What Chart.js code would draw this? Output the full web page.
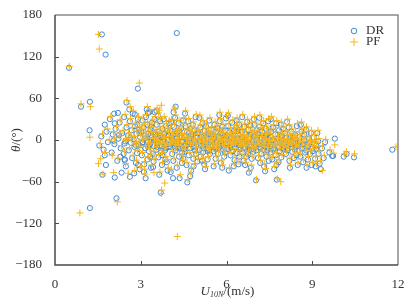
<!DOCTYPE html>
<html>
<head>
<meta charset="utf-8">
<script src="https://cdn.jsdelivr.net/npm/chart.js@4/dist/chart.umd.min.js"></script>
<style>
  body { margin: 0; background: #fff; }
  #wrap { width: 414px; height: 302px; }
</style>
</head>
<body>
<div id="wrap"><canvas id="scatter"></canvas></div>
<script>
// axis ticks
var xTicks = [0, 3, 6, 9, 12];
var yTicks = [-180, -120, -60, 0, 60, 120, 180];
var seriesNames = ["DR", "PF"];

// DR: [U10N (m/s), theta (deg)]
var drPoints = [
  [0.49,104],[1.64,152],[1.77,123],[2.9,74],[2.5,54],[0.91,48],[1.22,55],[1.21,14],[4.26,154],
  [1.22,-98],[2.15,-84],[1.66,-50],[2.09,-54],[2.33,-47],[2.62,-53],[3.7,-76],[3.17,-55],[4.13,-55],
  [4.63,-61],[7.03,-58],[7.76,-57],[6.78,-47],[6.08,-44],[9.3,-42],[10.1,-24],[10.46,-25],[9.7,-23],
  [11.8,-14],[10.2,-20],[9.79,2],[9.73,-23],[7.67,-42],[6.98,22],[7.9,22],[9.18,10],[2.07,38],[2.2,39],
  [2.79,37],[3.25,39],[3.49,40],[4.22,48],[1.74,22],[2.09,24],[1.74,-22],[1.78,-36],[2.29,-24],[2.44,-29],
  [3.43,-39],[2.91,-36],[2.44,-28],
  [1.55,-8],[1.62,5],[1.7,-14],[1.8,12],[1.85,-3],[1.92,30],[1.98,-18],[2.02,8],[2.08,-6],[2.12,16],
  [2.18,-30],[2.22,2],[2.26,25],[2.3,-12],[2.35,10],[2.4,-20],[2.42,33],[2.46,-2],[2.5,18],[2.48,-38],
  [2.55,6],[2.58,-15],[2.62,27],[2.65,-4],[2.68,14],[2.7,-26],[2.72,38],[2.75,1],[2.78,-10],[2.8,20],
  [2.83,-33],[2.85,9],[2.87,-19],[2.9,30],[2.92,-6],[2.94,15],[2.96,-42],[2.98,4],[2.6,44],[2.77,-48],
  [2.88,22],[2.99,-14],
  [2.05,-1],[2.24,7],[2.44,-5],[2.64,3],[2.84,-8],[2.95,11],[3.05,-4],[3.15,2],[3.25,-9],[3.35,7],[3.45,-1],
  [3.02,12],[3.04,-22],[3.06,28],[3.08,-3],[3.1,18],[3.12,-35],[3.14,6],[3.16,-12],[3.18,33],[3.2,-1],
  [3.22,22],[3.24,-28],[3.26,9],[3.28,-16],[3.3,40],[3.32,-7],[3.34,15],[3.36,-40],[3.38,3],[3.4,25],
  [3.42,-20],[3.44,11],[3.46,-9],[3.48,30],[3.11,-46],[3.21,44],[3.33,-24],[3.37,19],[3.45,-31],[3.49,-2],
  [3.52,8],[3.54,-14],[3.56,22],[3.58,-5],[3.6,35],[3.62,-25],[3.64,12],[3.66,-8],[3.68,27],[3.7,-18],
  [3.72,4],[3.74,-36],[3.76,16],[3.78,-2],[3.8,30],[3.82,-12],[3.84,9],[3.86,-28],[3.88,20],[3.9,-6],
  [3.92,13],[3.94,-44],[3.96,1],[3.98,24],[3.55,42],[3.65,-50],[3.75,-22],[3.85,-15],[3.69,6],[3.91,-32],
  [3.57,-10],[3.99,-9],
  [4.02,14],[4.04,-10],[4.06,26],[4.08,-4],[4.1,-20],[4.12,7],[4.14,-30],[4.16,19],[4.18,-8],[4.2,32],
  [4.22,-15],[4.24,3],[4.26,-40],[4.28,11],[4.3,-5],[4.32,24],[4.34,-24],[4.36,-55],[4.38,6],[4.4,-12],
  [4.42,17],[4.44,-33],[4.46,-2],[4.48,28],[4.05,-46],[4.15,40],[4.25,-7],[4.35,13],[4.45,-18],[4.11,-1],
  [4.31,-11],[4.49,-27],
  [4.52,5],[4.54,-17],[4.56,20],[4.58,-8],[4.6,-36],[4.62,12],[4.64,-3],[4.66,27],[4.68,-22],[4.7,2],
  [4.72,-12],[4.74,16],[4.76,-44],[4.78,8],[4.8,-6],[4.82,22],[4.84,-27],[4.86,-1],[4.88,14],[4.9,-15],
  [4.92,33],[4.94,-9],[4.96,4],[4.98,-31],[4.55,38],[4.73,-52],[4.85,-38],[4.69,10],[4.93,-20],
  [5.02,10],[5.04,-14],[5.06,-2],[5.08,18],[5.1,-24],[5.12,5],[5.14,-8],[5.16,24],[5.18,-18],[5.2,0],
  [5.22,-35],[5.24,13],[5.26,-6],[5.28,20],[5.3,-12],[5.32,3],[5.34,-28],[5.36,9],[5.38,-4],[5.4,28],
  [5.42,-20],[5.44,-1],[5.46,15],[5.48,-10],[5.05,32],[5.25,-42],[5.35,-16],[5.45,6],[5.15,-30],[5.31,-9],
  [5.52,8],[5.54,-16],[5.56,2],[5.58,22],[5.6,-9],[5.62,-27],[5.64,12],[5.66,-4],[5.68,17],[5.7,-20],
  [5.72,5],[5.74,-11],[5.76,27],[5.78,-2],[5.8,-33],[5.82,10],[5.84,-7],[5.86,19],[5.88,-14],[5.9,1],
  [5.92,-24],[5.94,14],[5.96,-5],[5.98,31],[5.55,-38],[5.75,36],[5.85,-40],[5.95,-18],[5.65,-12],[5.87,7],
  [6.02,6],[6.04,-13],[6.06,20],[6.1,-3],[6.12,11],[6.14,-22],[6.16,3],[6.18,-8],[6.2,25],
  [6.22,-16],[6.24,-1],[6.26,14],[6.28,-29],[6.3,7],[6.32,-6],[6.34,18],[6.36,-19],[6.38,-3],[6.4,9],
  [6.42,-35],[6.44,22],[6.46,-10],[6.48,2],[6.05,35],[6.25,-38],[6.35,28],[6.45,-24],[6.15,-11],[6.39,13],
  [6.52,-7],[6.54,12],[6.56,-18],[6.58,4],[6.6,-30],[6.62,19],[6.64,-2],[6.66,-12],[6.68,8],[6.7,-24],
  [6.72,26],[6.74,-5],[6.76,15],[6.8,-14],[6.82,2],[6.84,21],[6.86,-9],[6.88,-27],[6.9,10],
  [6.92,-3],[6.94,-17],[6.96,30],[6.55,33],[6.65,-36],[6.85,-40],[6.95,5],[6.75,-20],[6.59,-11],
  [7.02,6],[7.04,-15],[7.06,14],[7.08,-4],[7.1,-26],[7.12,9],[7.14,-10],[7.16,19],[7.18,-33],[7.2,1],
  [7.22,-20],[7.24,12],[7.26,-7],[7.28,24],[7.3,-14],[7.32,-38],[7.34,4],[7.36,-2],[7.38,16],[7.4,-24],
  [7.42,8],[7.44,-11],[7.46,27],[7.48,-30],[7.15,32],[7.35,-45],[7.45,-5],
  [7.52,5],[7.54,-18],[7.56,12],[7.58,-6],[7.6,-28],[7.62,18],[7.64,-1],[7.68,-12],[7.7,8],[7.72,-22],
  [7.74,24],[7.78,-9],[7.8,2],[7.82,-32],[7.84,14],[7.86,-16],[7.88,-3],[7.92,-25],[7.94,6],[7.96,-11],
  [7.98,16],[7.55,30],[7.75,-36],
  [8.02,-4],[8.05,10],[8.08,-20],[8.1,3],[8.14,-12],[8.18,18],[8.2,-30],[8.24,-6],[8.27,12],[8.3,-17],
  [8.33,1],[8.36,-26],[8.4,8],[8.43,-10],[8.46,20],[8.49,-36],[8.12,26],[8.22,-40],[8.38,-2],[8.45,-22],
  [8.15,-8],[8.32,5],
  [8.52,-14],[8.55,4],[8.58,-24],[8.62,12],[8.65,-6],[8.68,-32],[8.72,8],[8.75,-18],[8.78,15],[8.82,-10],
  [8.85,-28],[8.88,2],[8.92,-20],[8.95,10],[8.98,-36],[8.6,22],[8.8,-40],[8.9,-4],
  [9.02,-16],[9.05,4],[9.1,-27],[9.14,-8],[9.22,-20],[9.26,-34],[9.34,-12],[9.4,-26],[9.45,-3],[9.12,-38],
  [9.6,-18],
  // dense core of the cloud
  [3.53,-3],[3.61,5],[3.73,-9],[3.81,1],[3.89,-12],[3.97,7],[4.03,-6],[4.09,3],[4.19,-11],[4.23,9],
  [4.29,-2],[4.39,-8],[4.43,4],[4.53,-13],[4.59,0],[4.67,-6],[4.77,6],[4.83,-10],[4.89,-3],[4.97,10],
  [5.03,-7],[5.09,-1],[5.19,-12],[5.23,6],[5.29,-4],[5.39,-14],[5.43,8],[5.49,-2],[5.53,-8],[5.59,3],
  [5.63,-13],[5.69,-1],[5.73,-7],[5.79,9],[5.83,-4],[5.91,-10],[5.99,2],[6.03,-6],[6.09,4],[6.13,-9],
  [6.19,-2],[6.23,7],[6.29,-11],[6.33,-4],[6.41,2],[6.43,-7],[6.49,-13],[6.53,3],[6.57,-5],[6.63,-10],
  [6.69,1],[6.73,-3],[6.79,-8],[6.83,8],[6.89,-13],[6.93,-1],[6.99,-6],[7.01,-10],[7.07,1],[7.11,-6],
  [7.19,-12],[7.23,4],[7.29,-3],[7.33,-9],[7.39,6],[7.43,-15],[7.49,-4],[7.53,-9],[7.59,0],[7.63,-14],
  [7.71,-5],[7.79,-2],[7.83,-11],[7.89,5],[7.93,-6],[7.99,-13],[8.03,-9],[8.09,-2],[8.13,-15],[8.19,-5],
  [8.23,4],[8.28,-10],[8.34,-4],[8.39,-14],[8.44,0],[8.51,-8],[8.56,-3],[8.63,-12],[8.69,-6],[8.73,-1],
  [8.79,-15],[8.86,-9],[8.93,-4],[8.99,-12],[9.06,-6],[9.13,-13],[9.21,-2]
];

// PF: [U10N (m/s), theta (deg)]
var pfPoints = [
  [0.5,106],[1.52,152],[1.55,131],[2.95,82],[2.52,57],[0.91,52],[1.24,48],[1.22,4],[4.28,-139],
  [0.87,-105],[2.18,-89],[1.52,-34],[1.6,-27],[2.05,-47],[2.56,-48],[3.46,-47],[3.14,-49],[3.84,-62],
  [3.73,-72],[3.72,50],[3.72,-77],[7.9,-60],[9.35,-44],[11.93,-10],[9.79,-7],[10.48,-20],[10.2,-17],
  [6.8,-45],[7.05,-57],[7.78,-56],[3.66,43],[4.2,46],[1.68,-49],
  [1.58,-5],[1.66,9],[1.74,-18],[1.83,16],[1.9,0],[1.95,34],[2.0,-22],[2.05,12],[2.1,-2],[2.15,20],
  [2.2,-26],[2.25,6],[2.28,29],[2.33,-8],[2.38,14],[2.43,-16],[2.45,37],[2.49,2],[2.52,22],[2.47,-34],
  [2.57,10],[2.6,-11],[2.64,31],[2.67,0],[2.7,18],[2.73,-22],[2.74,42],[2.77,5],[2.8,-6],[2.82,24],
  [2.85,-29],[2.87,13],[2.89,-15],[2.92,34],[2.94,-2],[2.96,19],[2.98,-38],[3.0,8],[2.63,48],[2.79,-44],
  [2.9,26],[2.97,-10],
  [2.07,3],[2.26,10],[2.46,-1],[2.66,7],[2.86,-4],[2.97,15],[3.07,0],[3.17,6],[3.27,-5],[3.37,11],[3.47,3],
  [3.04,16],[3.06,-18],[3.08,32],[3.1,1],[3.12,22],[3.14,-31],[3.16,10],[3.18,-8],[3.2,37],[3.22,3],
  [3.24,26],[3.26,-24],[3.28,13],[3.3,-12],[3.32,44],[3.34,-3],[3.36,19],[3.38,-36],[3.4,7],[3.42,29],
  [3.44,-16],[3.46,15],[3.48,-5],[3.5,34],[3.13,-42],[3.23,48],[3.35,-20],[3.39,23],[3.47,-27],[3.5,2],
  [3.54,12],[3.56,-10],[3.58,26],[3.6,-1],[3.62,39],[3.64,-21],[3.66,16],[3.68,-4],[3.7,31],[3.72,-14],
  [3.74,8],[3.76,-32],[3.78,20],[3.8,2],[3.82,34],[3.84,-8],[3.86,13],[3.88,-24],[3.9,24],[3.92,-2],
  [3.94,17],[3.96,-40],[3.98,5],[4.0,28],[3.57,46],[3.67,-46],[3.77,-18],[3.87,-11],[3.71,10],[3.93,-28],
  [3.59,-6],[4.0,-5],
  [4.04,18],[4.06,-6],[4.08,30],[4.1,0],[4.12,-16],[4.14,11],[4.16,-26],[4.18,23],[4.2,-4],[4.22,36],
  [4.24,-11],[4.26,7],[4.28,-36],[4.3,15],[4.32,-1],[4.34,28],[4.36,-20],[4.38,-50],[4.4,10],[4.42,-8],
  [4.44,21],[4.46,-29],[4.48,2],[4.5,32],[4.07,-42],[4.17,44],[4.27,-3],[4.37,17],[4.47,-14],[4.13,3],
  [4.33,-7],[4.5,-23],
  [4.54,9],[4.56,-13],[4.58,24],[4.6,-4],[4.62,-32],[4.64,16],[4.66,1],[4.68,31],[4.7,-18],[4.72,6],
  [4.74,-8],[4.76,20],[4.78,-40],[4.8,12],[4.82,-2],[4.84,26],[4.86,-23],[4.88,3],[4.9,18],[4.92,-11],
  [4.94,37],[4.96,-5],[4.98,8],[5.0,-27],[4.65,-57],[4.57,42],[4.75,-48],[4.87,-34],[4.71,14],[4.95,-16],
  [5.04,14],[5.06,-10],[5.08,2],[5.1,22],[5.12,-20],[5.14,9],[5.16,-4],[5.18,28],[5.2,-14],[5.22,4],
  [5.24,-31],[5.26,17],[5.28,-2],[5.3,24],[5.32,-8],[5.34,7],[5.36,-24],[5.38,13],[5.4,0],[5.42,32],
  [5.44,-16],[5.46,3],[5.48,19],[5.5,-6],[5.07,36],[5.27,-38],[5.37,-12],[5.47,10],[5.17,-26],[5.33,-5],
  [5.54,12],[5.56,-12],[5.58,6],[5.6,26],[5.62,-5],[5.64,-23],[5.66,16],[5.68,0],[5.7,21],[5.72,-16],
  [5.74,9],[5.76,-7],[5.78,31],[5.8,2],[5.82,-29],[5.84,14],[5.86,-3],[5.88,23],[5.9,-10],[5.92,5],
  [5.94,-20],[5.96,18],[5.98,-1],[6.0,35],[5.57,-34],[5.77,40],[5.87,-36],[5.97,-14],[5.67,-8],[5.89,11],
  [6.04,10],[6.06,-9],[6.08,24],[6.1,-40],[6.12,1],[6.14,15],[6.16,-18],[6.18,7],[6.2,-4],[6.22,29],
  [6.24,-12],[6.26,3],[6.28,18],[6.3,-25],[6.32,11],[6.34,-2],[6.36,22],[6.38,-15],[6.4,1],[6.42,13],
  [6.44,-31],[6.46,26],[6.48,-6],[6.5,6],[6.07,39],[6.27,-34],[6.37,32],[6.47,-20],[6.17,-7],[6.41,17],
  [6.54,-3],[6.56,16],[6.58,-14],[6.6,8],[6.62,-26],[6.64,23],[6.66,2],[6.68,-8],[6.7,12],[6.72,-20],
  [6.74,30],[6.76,-1],[6.78,19],[6.82,-10],[6.84,6],[6.86,25],[6.88,-5],[6.9,-23],[6.92,14],
  [6.94,1],[6.96,-13],[6.98,34],[7.0,26],[6.57,37],[6.67,-32],[6.87,-36],[6.97,9],[6.77,-16],[6.61,-7],
  [7.04,10],[7.06,-11],[7.08,18],[7.1,0],[7.12,-22],[7.14,13],[7.16,-6],[7.18,23],[7.2,-29],[7.22,5],
  [7.24,-16],[7.26,16],[7.28,-3],[7.3,28],[7.32,-10],[7.34,-34],[7.36,8],[7.38,2],[7.4,20],[7.42,-20],
  [7.44,12],[7.46,-7],[7.48,31],[7.5,-26],[7.17,36],[7.37,-41],[7.47,-1],
  [7.54,9],[7.56,-14],[7.58,16],[7.6,-2],[7.62,-24],[7.64,22],[7.66,3],[7.69,-38],[7.7,-8],[7.72,12],
  [7.74,-18],[7.76,28],[7.8,-5],[7.82,6],[7.84,-28],[7.86,18],[7.88,-12],[7.9,1],[7.92,26],[7.94,-21],
  [7.96,10],[7.98,-7],[8.0,20],[7.57,34],[7.77,-32],
  [8.04,0],[8.07,14],[8.1,-16],[8.12,7],[8.16,-8],[8.2,22],[8.22,-26],[8.26,-2],[8.29,16],[8.32,-13],
  [8.35,5],[8.38,-22],[8.42,12],[8.45,-6],[8.48,24],[8.5,-32],[8.14,30],[8.24,-36],[8.4,2],[8.47,-18],
  [8.17,-4],[8.34,9],
  [8.54,-10],[8.57,8],[8.6,-20],[8.64,16],[8.67,-2],[8.7,-28],[8.74,12],[8.77,-14],[8.8,19],[8.84,-6],
  [8.87,-24],[8.9,6],[8.94,-16],[8.97,14],[9.0,-32],[8.62,26],[8.82,-36],[8.92,0],
  [9.04,-12],[9.07,8],[9.12,-23],[9.16,-4],[9.2,14],[9.24,-16],[9.28,-30],[9.36,-8],[9.42,-22],[9.47,1],
  [9.14,-34],[9.62,-14],[9.75,-19],[10.12,-20],
  // dense core of the cloud
  [3.55,0],[3.63,8],[3.75,-5],[3.83,4],[3.91,-8],[3.99,11],[4.05,-2],[4.11,7],[4.21,-7],[4.25,13],
  [4.31,2],[4.41,-4],[4.45,8],[4.55,-9],[4.61,4],[4.69,-2],[4.79,10],[4.85,-6],[4.91,1],[4.99,14],
  [5.05,-3],[5.11,3],[5.21,-8],[5.25,10],[5.31,0],[5.41,-10],[5.45,12],[5.51,2],[5.55,-4],[5.61,7],
  [5.65,-9],[5.71,3],[5.75,-3],[5.81,13],[5.85,0],[5.93,-6],[6.01,6],[6.05,-2],[6.11,8],[6.15,-5],
  [6.21,2],[6.25,11],[6.31,-7],[6.35,0],[6.39,6],[6.45,-3],[6.51,-9],[6.55,7],[6.59,-1],[6.65,-6],
  [6.71,5],[6.75,1],[6.81,-4],[6.85,12],[6.91,-9],[6.95,3],[7.01,-2],[7.03,-6],[7.09,5],[7.13,-2],
  [7.21,-8],[7.25,8],[7.31,1],[7.35,-5],[7.41,10],[7.45,-11],[7.51,0],[7.55,-5],[7.61,4],[7.65,-10],
  [7.73,-1],[7.81,2],[7.85,-7],[7.91,9],[7.95,-2],[8.01,-9],[8.05,-5],[8.11,2],[8.15,-11],[8.21,-1],
  [8.25,8],[8.3,-6],[8.36,0],[8.41,-10],[8.46,4],[8.53,-4],[8.58,1],[8.65,-8],[8.71,-2],[8.75,3],
  [8.81,-11],[8.88,-5],[8.95,0],[9.01,-8],[9.08,-2],[9.15,-9],[9.23,2]
];

var blue = "rgb(66,136,212)";
var orange = "rgb(248,182,22)";
var textColor = "#333";
var serif = "'Liberation Serif', 'DejaVu Serif', serif";

function toXY(arr) {
  return arr.map(function(p) { return { x: p[0], y: p[1] }; });
}

// frame, inward ticks, legend and axis titles
var decor = {
  id: "decor",
  afterDraw: function(chart) {
    var c = chart.ctx, a = chart.chartArea;
    var sx = chart.scales.x, sy = chart.scales.y;
    c.save();
    c.lineWidth = 1.5;
    c.strokeStyle = "#8a8a8a";
    c.beginPath();
    c.moveTo(a.left, a.top); c.lineTo(a.right, a.top); c.lineTo(a.right, a.bottom);
    c.stroke();
    c.strokeStyle = "#4a4a4a";
    c.beginPath();
    c.moveTo(a.left, a.top); c.lineTo(a.left, a.bottom); c.lineTo(a.right, a.bottom);
    c.stroke();
    c.lineWidth = 1;
    c.beginPath();
    xTicks.slice(1, -1).forEach(function(v) {
      var px = Math.round(sx.getPixelForValue(v)) + 0.5;
      c.moveTo(px, a.bottom); c.lineTo(px, a.bottom - 4);
    });
    yTicks.slice(1, -1).forEach(function(v) {
      var py = Math.round(sy.getPixelForValue(v)) + 0.5;
      c.moveTo(a.left, py); c.lineTo(a.left + 4, py);
    });
    c.stroke();

    // legend
    c.lineWidth = 1;
    c.strokeStyle = blue;
    c.beginPath(); c.arc(354, 31, 2.8, 0, Math.PI * 2); c.stroke();
    c.strokeStyle = orange;
    c.beginPath();
    c.moveTo(350, 42); c.lineTo(358, 42);
    c.moveTo(354, 38); c.lineTo(354, 46);
    c.stroke();
    c.fillStyle = textColor;
    c.font = "13px " + serif;
    c.textBaseline = "middle";
    c.textAlign = "left";
    c.fillText(seriesNames[0], 366, 31);
    c.fillText(seriesNames[1], 366, 42);

    // x title: U10N/(m/s)
    c.textBaseline = "alphabetic";
    var f1 = "italic 13px " + serif, f2 = "italic 8px " + serif, f3 = "13px " + serif;
    c.font = f1; var w1 = c.measureText("U").width;
    c.font = f2; var w2 = c.measureText("10N").width;
    c.font = f3; var w3 = c.measureText("/(m/s)").width;
    var x0 = (a.left + a.right) / 2 - (w1 + w2 + w3) / 2 + 1;
    var by = 295;
    c.font = f1; c.fillText("U", x0, by);
    c.font = f2; c.fillText("10N", x0 + w1, by + 2);
    c.font = f3; c.fillText("/(m/s)", x0 + w1 + w2, by);

    // y title: θ/(°)
    c.translate(20, (a.top + a.bottom) / 2);
    c.rotate(-Math.PI / 2);
    c.font = "italic 13px " + serif; var t1 = c.measureText("θ").width;
    c.font = "13px " + serif; var t2 = c.measureText("/(°)").width;
    var ty = -(t1 + t2) / 2;
    c.font = "italic 13px " + serif; c.fillText("θ", ty, 0);
    c.font = "13px " + serif; c.fillText("/(°)", ty + t1, 0);
    c.restore();
  }
};

new Chart(document.getElementById("scatter"), {
  type: "scatter",
  data: {
    datasets: [
      {
        label: seriesNames[1],
        data: toXY(pfPoints),
        pointStyle: "cross",
        pointRadius: 3.5,
        pointBorderWidth: 1,
        borderColor: orange,
        backgroundColor: orange
      },
      {
        label: seriesNames[0],
        data: toXY(drPoints),
        pointStyle: "circle",
        pointRadius: 2.6,
        pointBorderWidth: 1,
        borderColor: blue,
        backgroundColor: "rgba(0,0,0,0)"
      }
    ]
  },
  options: {
    responsive: true,
    maintainAspectRatio: false,
    animation: false,
    layout: { padding: { top: 15, right: 16, left: 0, bottom: 0 } },
    plugins: {
      legend: { display: false },
      tooltip: { enabled: false }
    },
    scales: {
      x: {
        type: "linear",
        min: 0, max: 12,
        afterBuildTicks: function(s) { s.ticks = xTicks.map(function(v) { return { value: v }; }); },
        afterFit: function(s) { s.height = 37; },
        grid: { display: false },
        border: { display: false },
        ticks: { padding: 4, color: textColor, font: { family: serif, size: 13 }, maxRotation: 0 }
      },
      y: {
        min: -180, max: 180,
        afterBuildTicks: function(s) { s.ticks = yTicks.map(function(v) { return { value: v }; }); },
        afterFit: function(s) { s.width = 55; },
        grid: { display: false },
        border: { display: false },
        ticks: {
          padding: 5, color: textColor, font: { family: serif, size: 13 },
          callback: function(v) { return String(v).replace("-", "\u2212"); }
        }
      }
    }
  },
  plugins: [decor]
});
</script>
</body>
</html>
